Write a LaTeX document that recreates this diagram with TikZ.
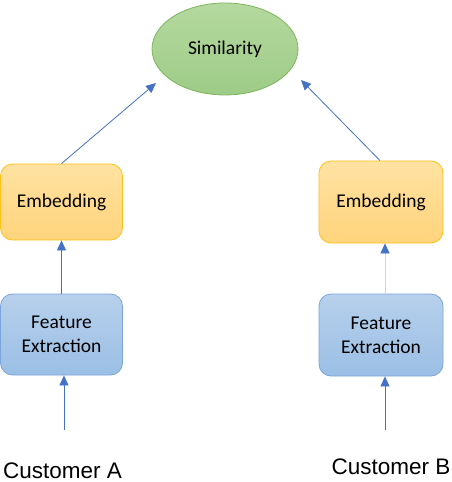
\documentclass[tikz,border=0pt]{standalone}
\usepackage{fontspec}
\setmainfont{Carlito}
\newfontfamily\arialfont{Liberation Sans}
\usetikzlibrary{arrows.meta,shapes.geometric}
\definecolor{arrowblue}{HTML}{4472C4}
\definecolor{lightline}{HTML}{C9D8EE}
\definecolor{greenborder}{HTML}{7DB55A}
\definecolor{greentop}{HTML}{B5D9A0}
\definecolor{greenbot}{HTML}{9ECB86}
\definecolor{orangeborder}{HTML}{FFC21A}
\definecolor{orangetop}{HTML}{FFE2A2}
\definecolor{orangebot}{HTML}{FFD47C}
\definecolor{blueborder}{HTML}{7BA4D8}
\definecolor{bluetop}{HTML}{B7D0EC}
\definecolor{bluebot}{HTML}{9BBFE5}
\tikzset{
  simnode/.style={ellipse, draw=greenborder, line width=0.8pt, top color=greentop, bottom color=greenbot,
    minimum width=146pt, minimum height=92pt, inner sep=0pt, font=\fontsize{19.5}{22}\selectfont},
  embbox/.style={rectangle, rounded corners=12pt, draw=orangeborder, line width=0.8pt, top color=orangetop, bottom color=orangebot,
    inner sep=0pt, font=\fontsize{19.5}{22}\selectfont},
  featbox/.style={rectangle, rounded corners=12pt, draw=blueborder, line width=0.8pt, top color=bluetop, bottom color=bluebot,
    inner sep=0pt, align=center, font=\fontsize{19.5}{24}\selectfont},
  custlabel/.style={inner sep=0pt, font=\arialfont\fontsize{22.5}{26}\selectfont},
  conn/.style={draw=arrowblue, line width=0.8pt, -{Triangle[length=10pt,width=9pt,fill=arrowblue,color=arrowblue]}},
}
\begin{document}
\begin{tikzpicture}[x=1pt,y=-1pt]
\useasboundingbox (0,0) rectangle (452,482);
\node[simnode] (sim) at (225,49) {Similarity};
\node[embbox, minimum width=122pt, minimum height=76pt] (embA) at (61.5,202) {Embedding};
\node[embbox, minimum width=124pt, minimum height=82pt] (embB) at (381,202) {Embedding};
\node[featbox, minimum width=122pt, minimum height=81pt] (featA) at (61.5,334.5) {Feature\\Extraction};
\node[featbox, minimum width=124pt, minimum height=82pt] (featB) at (381,335) {Feature\\Extraction};
\node[custlabel] (custA) at (62.5,471) {Customer A};
\node[custlabel] (custB) at (391,467) {Customer B};
\coordinate (tipA) at (156,83);
\coordinate (tipB) at (301,80);
\coordinate (startA) at (64,430);
\coordinate (startB) at (385,430);
\draw[conn] (embA.north) -- (tipA);
\draw[conn] (embB.north) ++(-1,0) -- (tipB);
\draw[conn] (featA.north) -- (embA.south);
\draw[conn, draw=lightline] ([xshift=4pt]featB.north) -- ([xshift=4pt]embB.south);
\draw[conn] (startA) -- (startA |- featA.south);
\draw[conn] (startB) -- (startB |- featB.south);
\end{tikzpicture}
\end{document}
